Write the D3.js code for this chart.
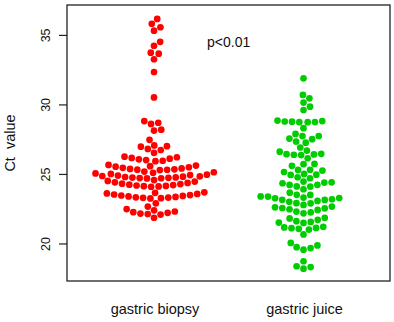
<!DOCTYPE html>
<html>
<head>
<meta charset="utf-8">
<script src="https://cdn.jsdelivr.net/npm/d3@7"></script>
<style>
  html, body { margin: 0; padding: 0; background: #fff; }
  svg { display: block; font-family: "Liberation Sans", Arial, sans-serif; }
</style>
</head>
<body>
<svg id="chart" width="394" height="322"></svg>
<script>
// ---- data ----
const categories = ["gastric biopsy", "gastric juice"];

const biopsyValues = [
  36.15, 35.8, 35.55, 35.3, 34.5, 34.22, 33.72, 33.65, 33.25, 32.33, 30.5,
  28.8, 28.68, 28.6, 28.18, 28.12,
  27.45, 27.05, 27.0, 26.96, 26.8, 26.72, 26.52,
  25.92, 25.95, 26.0, 26.05, 26.1, 26.15, 26.2, 26.24,
  25.28, 25.3, 25.31, 25.33, 25.36, 25.4, 25.44, 25.48, 25.52, 25.56, 25.6, 25.65,
  24.68, 24.69, 24.7, 24.72, 24.74, 24.75, 24.78, 24.8, 24.83, 24.85, 24.88, 24.92, 24.95, 25.0, 25.04, 25.08, 25.12, 25.17,
  24.08, 24.1, 24.12, 24.14, 24.17, 24.2, 24.23, 24.27, 24.3, 24.35, 24.4, 24.45, 24.5, 24.56,
  23.24, 23.26, 23.28, 23.3, 23.32, 23.35, 23.38, 23.42, 23.45, 23.48, 23.52, 23.56, 23.6, 23.64, 23.68,
  22.89, 22.65,
  21.85, 22.08, 22.12, 22.15, 22.2, 22.25, 22.3, 22.38, 22.47
];

const juiceValues = [
  31.88, 30.68, 30.44, 30.13, 29.84, 29.6,
  28.72, 28.72, 28.73, 28.76, 28.77, 28.8, 28.84, 28.29,
  27.88, 27.73, 27.72, 27.54, 27.5, 27.33, 27.25, 26.9,
  26.13, 26.36, 26.38, 26.4, 26.42, 26.45, 26.6, 26.68,
  25.72, 25.7, 25.58,
  24.69, 24.76, 24.93, 24.95, 25.0, 25.14, 25.24, 25.29, 25.3,
  24.09, 24.1, 24.21, 24.22, 24.33, 24.38, 24.4, 24.45, 23.9, 23.65,
  23.0, 23.06, 23.13, 23.14, 23.18, 23.25, 23.27, 23.3, 23.37, 23.38, 23.49, 23.5,
  22.17, 22.24, 22.29, 22.41, 22.46, 22.53, 22.55, 22.6, 22.65, 22.77, 22.89, 22.9,
  21.48, 21.5, 21.55, 21.6, 21.7, 21.8, 21.84,
  20.65, 21.0, 21.05, 21.1, 21.12, 21.15, 21.2,
  20.04, 19.86, 19.73, 19.67, 19.55,
  18.72, 18.36, 18.3, 18.19
];

const seriesValues = [biopsyValues, juiceValues];
const seriesColors = ["#FF0000", "#00CD00"];
const yTicks = [20, 25, 30, 35];
const yLabel = "Ct  value";
const annotation = "p<0.01";

// ---- layout ----
const box = { left: 67, right: 390, top: 5, bottom: 281 };
const svg = d3.select("#chart");

const y = d3.scaleLinear().domain([17.3, 37.15]).range([box.bottom, box.top]);
const x = d3.scalePoint().domain(categories).range([154, 303.5]);

const dotR = 3.35;
const spacing = 7.3;

// beeswarm "swarm" layout (ascending priority), in pixel space
function swarm(values, cx) {
  const pts = values.map(v => ({ v, py: y(v) }));
  pts.sort((a, b) => a.v - b.v);
  const placed = [];
  pts.forEach(p => {
    const near = placed.filter(q => Math.abs(p.py - q.py) < spacing);
    near.sort((a, b) => Math.abs(p.py - a.py) - Math.abs(p.py - b.py));
    const cands = [0];
    near.forEach(q => { const dy = p.py - q.py; cands.push(q.dx + Math.sqrt(spacing * spacing - dy * dy)); });
    near.forEach(q => { const dy = p.py - q.py; cands.push(q.dx - Math.sqrt(spacing * spacing - dy * dy)); });
    let best = Infinity;
    cands.forEach(c => {
      const bad = near.some(q => (c - q.dx) ** 2 + (p.py - q.py) ** 2 < spacing * spacing * 0.999);
      if (!bad && Math.abs(c) < Math.abs(best)) best = c;
    });
    p.dx = best;
    placed.push(p);
  });
  return pts.map(p => ({ v: p.v, x: cx + p.dx }));
}

// points
seriesValues.forEach((vals, i) => {
  const pts = swarm(vals, x(categories[i]));
  svg.append("g").selectAll("circle").data(pts).join("circle")
    .attr("cx", d => d.x)
    .attr("cy", d => y(d.v))
    .attr("r", dotR)
    .attr("fill", seriesColors[i]);
});

// frame
svg.append("rect")
  .attr("x", box.left).attr("y", box.top)
  .attr("width", box.right - box.left).attr("height", box.bottom - box.top)
  .attr("fill", "none").attr("stroke", "#222").attr("stroke-width", 1.3);

// y axis
const yAxis = svg.append("g")
  .attr("transform", `translate(${box.left},0)`)
  .call(d3.axisLeft(y).tickValues(yTicks).tickSize(8).tickFormat(d3.format("d")));
yAxis.select(".domain").remove();
yAxis.selectAll(".tick line").attr("stroke", "#222").attr("stroke-width", 1.2);
yAxis.selectAll(".tick text")
  .attr("x", null).attr("dy", null)
  .attr("transform", "translate(-17,0) rotate(-90)")
  .attr("text-anchor", "middle")
  .attr("fill", "#111")
  .style("font-size", "12.5px")
  .style("font-family", "'Liberation Sans', Arial, sans-serif");

// y label
svg.append("text")
  .attr("transform", `translate(15,${(box.top + box.bottom) / 2}) rotate(-90)`)
  .attr("text-anchor", "middle")
  .style("font-size", "14.5px")
  .style("white-space", "pre")
  .attr("fill", "#111")
  .text(yLabel);

// x category labels
svg.append("g").selectAll("text").data(categories).join("text")
  .attr("x", d => x(d) + 1)
  .attr("y", 314)
  .attr("text-anchor", "middle")
  .style("font-size", "14.5px")
  .attr("fill", "#111")
  .text(d => d);

// annotation
svg.append("text")
  .attr("x", 207).attr("y", 47)
  .style("font-size", "14px")
  .attr("fill", "#111")
  .text(annotation);
</script>
</body>
</html>
